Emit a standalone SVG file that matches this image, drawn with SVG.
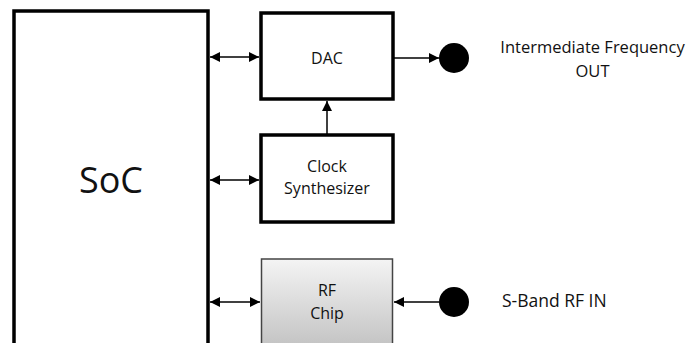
<svg xmlns="http://www.w3.org/2000/svg" width="687" height="343" viewBox="0 0 687 343">
<style>
.box{fill:#fff;stroke:#000;stroke-width:3.5}
.t{font-family:"Open Sans","Noto Sans",sans-serif;font-size:16px;fill:#111;text-anchor:middle}
.lbl{font-family:"Open Sans","Noto Sans",sans-serif;font-size:16.5px;fill:#111}
.c{stroke:#000;stroke-width:1.5;fill:none}
.dot{fill:#000}
</style>
<defs>
<marker id="ah" viewBox="0 0 10 10" refX="10" refY="5" markerWidth="10" markerHeight="10" markerUnits="userSpaceOnUse" orient="auto-start-reverse">
<path d="M0,0 L10,5 L0,10 z" fill="#000"/>
</marker>
<linearGradient id="g" x1="0" y1="0" x2="0" y2="1">
<stop offset="0" stop-color="#f4f4f4"/>
<stop offset="1" stop-color="#c2c2c2"/>
</linearGradient>
</defs>
<rect width="687" height="343" fill="#fff"/>
<g id="soc">
<rect class="box" x="14" y="11" width="194" height="340"/>
<text x="111" y="193" class="t" style="font-size:36px">SoC</text>
</g>
<g id="dac">
<rect class="box" x="261" y="13" width="132" height="86"/>
<text x="327" y="64" class="t">DAC</text>
</g>
<g id="clock">
<rect class="box" x="261" y="135" width="132" height="87"/>
<text x="327" y="172" class="t">Clock</text>
<text x="327" y="194" class="t">Synthesizer</text>
</g>
<g id="rf">
<rect x="261.5" y="259" width="131" height="90" fill="url(#g)" stroke="#444" stroke-width="1.5"/>
<text x="327" y="296" class="t">RF</text>
<text x="327" y="319" class="t">Chip</text>
</g>
<g id="if-out">
<circle class="dot" cx="454" cy="58" r="15"/>
<text x="592.5" y="53" class="lbl" text-anchor="middle">Intermediate Frequency</text>
<text x="592.5" y="77" class="lbl" text-anchor="middle">OUT</text>
</g>
<g id="rf-in">
<circle class="dot" cx="454" cy="302" r="15"/>
<text x="502" y="307" class="lbl" style="font-size:17.5px">S-Band RF IN</text>
</g>
<g id="connectors">
<line class="c" x1="210" y1="57" x2="259" y2="57" marker-start="url(#ah)" marker-end="url(#ah)"/>
<line class="c" x1="210" y1="180" x2="259" y2="180" marker-start="url(#ah)" marker-end="url(#ah)"/>
<line class="c" x1="210" y1="302" x2="260" y2="302" marker-start="url(#ah)" marker-end="url(#ah)"/>
<line class="c" x1="327" y1="134" x2="327" y2="101" marker-end="url(#ah)"/>
<line class="c" x1="393" y1="58" x2="439" y2="58" marker-end="url(#ah)"/>
<line class="c" x1="439" y1="302" x2="394" y2="302" marker-end="url(#ah)"/>
</g>
</svg>
